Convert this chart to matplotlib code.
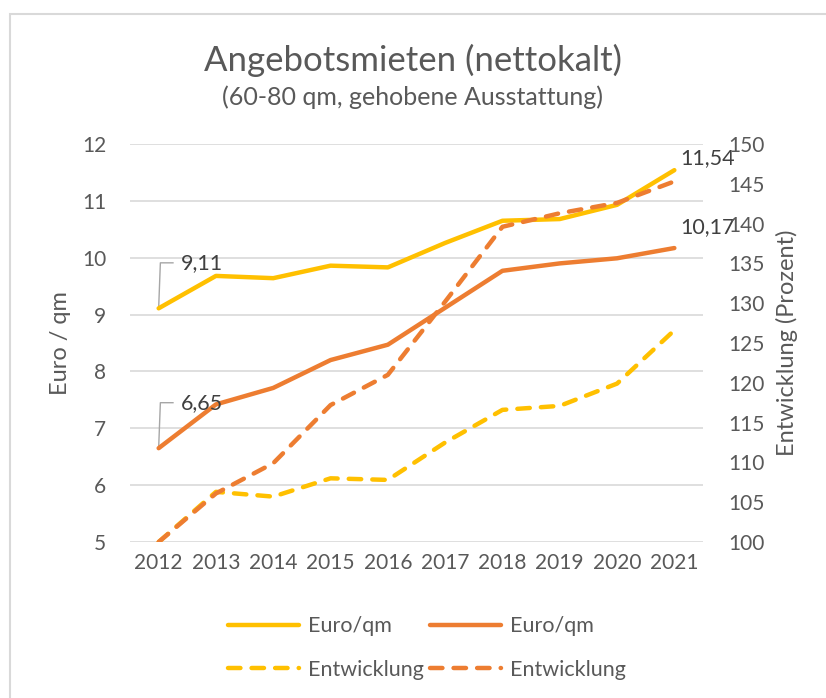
import matplotlib.pyplot as plt
import numpy as np
from matplotlib.patches import Rectangle

plt.rcParams["font.family"] = ["Lato", "DejaVu Sans"]

years = ["2012", "2013", "2014", "2015", "2016", "2017", "2018", "2019", "2020", "2021"]
euro_gehoben = [9.11, 9.68, 9.64, 9.86, 9.83, 10.26, 10.65, 10.68, 10.93, 11.54]
euro_standard = [6.65, 7.42, 7.71, 8.20, 8.47, 9.12, 9.77, 9.90, 9.99, 10.17]
entw_gehoben = [100.0, 106.3, 105.7, 108.0, 107.8, 112.5, 116.6, 117.1, 119.9, 126.6]
entw_standard = [100.0, 106.1, 109.9, 117.2, 121.0, 130.2, 139.6, 141.3, 142.6, 145.3]

YELLOW = "#FFC000"
ORANGE = "#ED7D31"
TXT = "#595959"
GRID = "#D9D9D9"

fig = plt.figure(figsize=(8.26, 6.98), dpi=100)
ax = fig.add_axes([130 / 826, 1 - 542 / 698, 573 / 826, 398 / 698])
ax2 = ax.twinx()

x = np.arange(len(years))
lw = 3.2
dash = (0, (2.8, 2.5))
ax.plot(x, euro_gehoben, color=YELLOW, lw=lw, solid_capstyle="round", label="Euro/qm", zorder=3)
ax.plot(x, euro_standard, color=ORANGE, lw=lw, solid_capstyle="round", label="Euro/qm", zorder=3)
ax2.plot(x, entw_gehoben, color=YELLOW, lw=lw, ls=dash, dash_capstyle="round",
         label="Entwicklung", zorder=3)
ax2.plot(x, entw_standard, color=ORANGE, lw=lw, ls=dash, dash_capstyle="round",
         label="Entwicklung", zorder=3)

ax.set_xlim(-0.5, len(years) - 0.5)
ax.set_ylim(5, 12)
ax2.set_ylim(100, 150)
ax.set_yticks(range(5, 13))
ax2.set_yticks(range(100, 151, 5))
ax.set_xticks(x)
ax.set_xticklabels(years)

ax.grid(axis="y", color=GRID, lw=1.2)
ax.set_axisbelow(True)
for a in (ax, ax2):
    for s in a.spines.values():
        s.set_visible(False)
    a.tick_params(length=0, labelsize=15, colors=TXT)
ax.tick_params(axis="y", pad=17)
ax2.tick_params(axis="y", pad=18)
ax.tick_params(axis="x", pad=8)

ax.set_ylabel("Euro / qm", fontsize=17, color=TXT, labelpad=8)
ax2.set_ylabel("Entwicklung (Prozent)", fontsize=17, color=TXT, labelpad=8)

# data labels with leader lines
lab_kw = dict(fontsize=15.5, color="#404040", va="center", ha="left")
for val, ylab in [(euro_gehoben[0], 9.91), (euro_standard[0], 7.45)]:
    ax.plot([0, 0.03, 0.25], [val, ylab, ylab], color="#A6A6A6", lw=1, zorder=2)
    ax.text(0.38, ylab, f"{val:.2f}".replace(".", ","), **lab_kw)
ax.text(9.1, euro_gehoben[-1] + 0.22, f"{euro_gehoben[-1]:.2f}".replace(".", ","), **lab_kw)
ax.text(9.1, euro_standard[-1] + 0.37, f"{euro_standard[-1]:.2f}".replace(".", ","), **lab_kw)

fig.text(0.5, 1 - 60 / 698, "Angebotsmieten (nettokalt)", ha="center", va="center",
         fontsize=25, color=TXT)
fig.text(0.5, 1 - 97 / 698, "(60-80 qm, gehobene Ausstattung)", ha="center", va="center",
         fontsize=18, color=TXT)

h1, l1 = ax.get_legend_handles_labels()
h2, l2 = ax2.get_legend_handles_labels()
handles = [h1[0], h2[0], h1[1], h2[1]]
labels = [l1[0], l2[0], l1[1], l2[1]]
fig.legend(handles, labels, ncol=2, loc="center", bbox_to_anchor=(427 / 826, 1 - 648 / 698),
           frameon=False, fontsize=15.5, labelcolor=TXT, handlelength=3.3,
           columnspacing=0.3, handletextpad=0.4, labelspacing=1.1)

# chart border (cropped on right and bottom)
fig.patches.append(Rectangle((10 / 826, -0.1), 1.2, 1 - 14 / 698 + 0.1,
                             transform=fig.transFigure, fill=False,
                             edgecolor="#D9D9D9", lw=1.5))

fig.savefig("out.png", dpi=100)
